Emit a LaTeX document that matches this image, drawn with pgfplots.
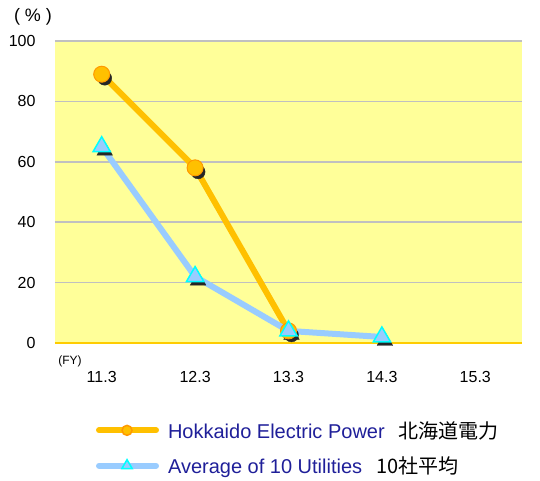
\documentclass[border=0pt]{standalone}
\usepackage{pgfplots}
\pgfplotsset{compat=1.18}
\usepackage{fontspec}
\setmainfont{Liberation Sans}
\newfontfamily\jp{Noto Sans CJK JP}

\definecolor{bgyellow}{HTML}{FFFF99}
\definecolor{hokline}{HTML}{FFC000}
\definecolor{hokedge}{HTML}{FF9900}
\definecolor{avgline}{HTML}{99CCFF}
\definecolor{avgedge}{HTML}{00FFFF}
\definecolor{gridgray}{HTML}{C0C0C0}
\definecolor{axisgold}{HTML}{FFCC00}
\definecolor{navytext}{HTML}{1F1F99}

\begin{document}
\begin{tikzpicture}
  % fixes the page to 540 x 480
  \path (-55pt,-137pt) rectangle (485pt,343pt);
  \begin{axis}[
    scale only axis,
    width=467pt, height=302pt,
    xmin=-0.5, xmax=4.5,
    ymin=0, ymax=100,
    axis background/.style={fill=bgyellow},
    axis lines*=left,
    y axis line style={draw=none},
    x axis line style={axisgold, line width=2pt},
    ytick={0,20,...,100},
    ymajorgrids,
    grid style={gridgray, line width=1.5pt},
    ytick style={draw=none},
    xtick={0,...,4},
    xticklabels={11.3,12.3,13.3,14.3,15.3},
    xtick style={draw=none},
    extra x ticks={-0.5,0.5,1.5,2.5,3.5,4.5},
    extra x tick labels={},
    extra x tick style={
      tick style={axisgold, line width=1.5pt},
      major tick length=6pt,
      tick align=inside,
      grid=none,
    },
    /pgf/number format/assume math mode=true,
    ticklabel style={font=\fontsize{16}{19}\selectfont},
    yticklabel style={xshift=-16pt},
    xticklabel style={yshift=-25pt},
    clip=false,
    legend style={
      at={(0.081,-0.245)}, anchor=north west,
      draw=none, fill=none,
      font=\fontsize{20}{24}\selectfont,
      row sep=13pt,
      /tikz/every odd column/.append style={column sep=7pt},
    },
    legend cell align=left,
    legend image code/.code={
      \draw[#1, mark repeat=2, mark phase=2]
        plot coordinates {(0pt,0pt) (28pt,0pt) (57pt,0pt)};
    },
  ]
    % lines
    \addplot[hokline, line width=6pt, forget plot]
      coordinates {(0,89) (1,58) (2,4)};
    \addplot[avgline, line width=6pt, forget plot]
      coordinates {(0,65) (1,22) (2,4) (3,2)};

    % dark shadows under the markers
    \addplot[only marks, mark=*, black!85, mark size=7pt,
      mark options={xshift=3pt, yshift=-4pt}, forget plot]
      coordinates {(0,89) (1,58) (2,4)};
    \addplot[only marks, mark=triangle*, black!85, mark size=9pt,
      mark options={xshift=3pt, yshift=-4pt}, forget plot]
      coordinates {(0,65) (1,22) (2,4) (3,2)};

    % markers
    \addplot[only marks, mark=*, mark size=8pt,
      mark options={fill=hokline, draw=hokedge, line width=1pt}, forget plot]
      coordinates {(0,89) (1,58) (2,4)};
    \addplot[only marks, mark=triangle*, mark size=10pt,
      mark options={fill=avgline, draw=avgedge, line width=1.5pt}, forget plot]
      coordinates {(0,65) (1,22) (2,4) (3,2)};

    % legend entries
    \addlegendimage{hokline, line width=6pt, line cap=round, mark=*, mark size=5pt,
      mark options={fill=hokline, draw=hokedge, line width=1.5pt}}
    \addlegendentry{\textcolor{navytext}{Hokkaido Electric Power}\hspace{14pt}{\jp 北海道電力}}
    \addlegendimage{avgline, line width=6pt, line cap=round, mark=triangle*, mark size=6pt,
      mark options={fill=avgline, draw=avgedge, line width=1.5pt}}
    \addlegendentry{\textcolor{navytext}{Average of 10 Utilities}\hspace{14pt}{\jp 10社平均}}

    \node[font=\fontsize{18}{21}\selectfont] at (rel axis cs:0,1)
      [xshift=-22pt, yshift=24pt] {(\hspace{5pt}\%\hspace{5pt})};
    \node[font=\fontsize{12}{14}\selectfont] at (rel axis cs:0,0)
      [xshift=15pt, yshift=-18pt] {(FY)};
  \end{axis}
\end{tikzpicture}
\end{document}
